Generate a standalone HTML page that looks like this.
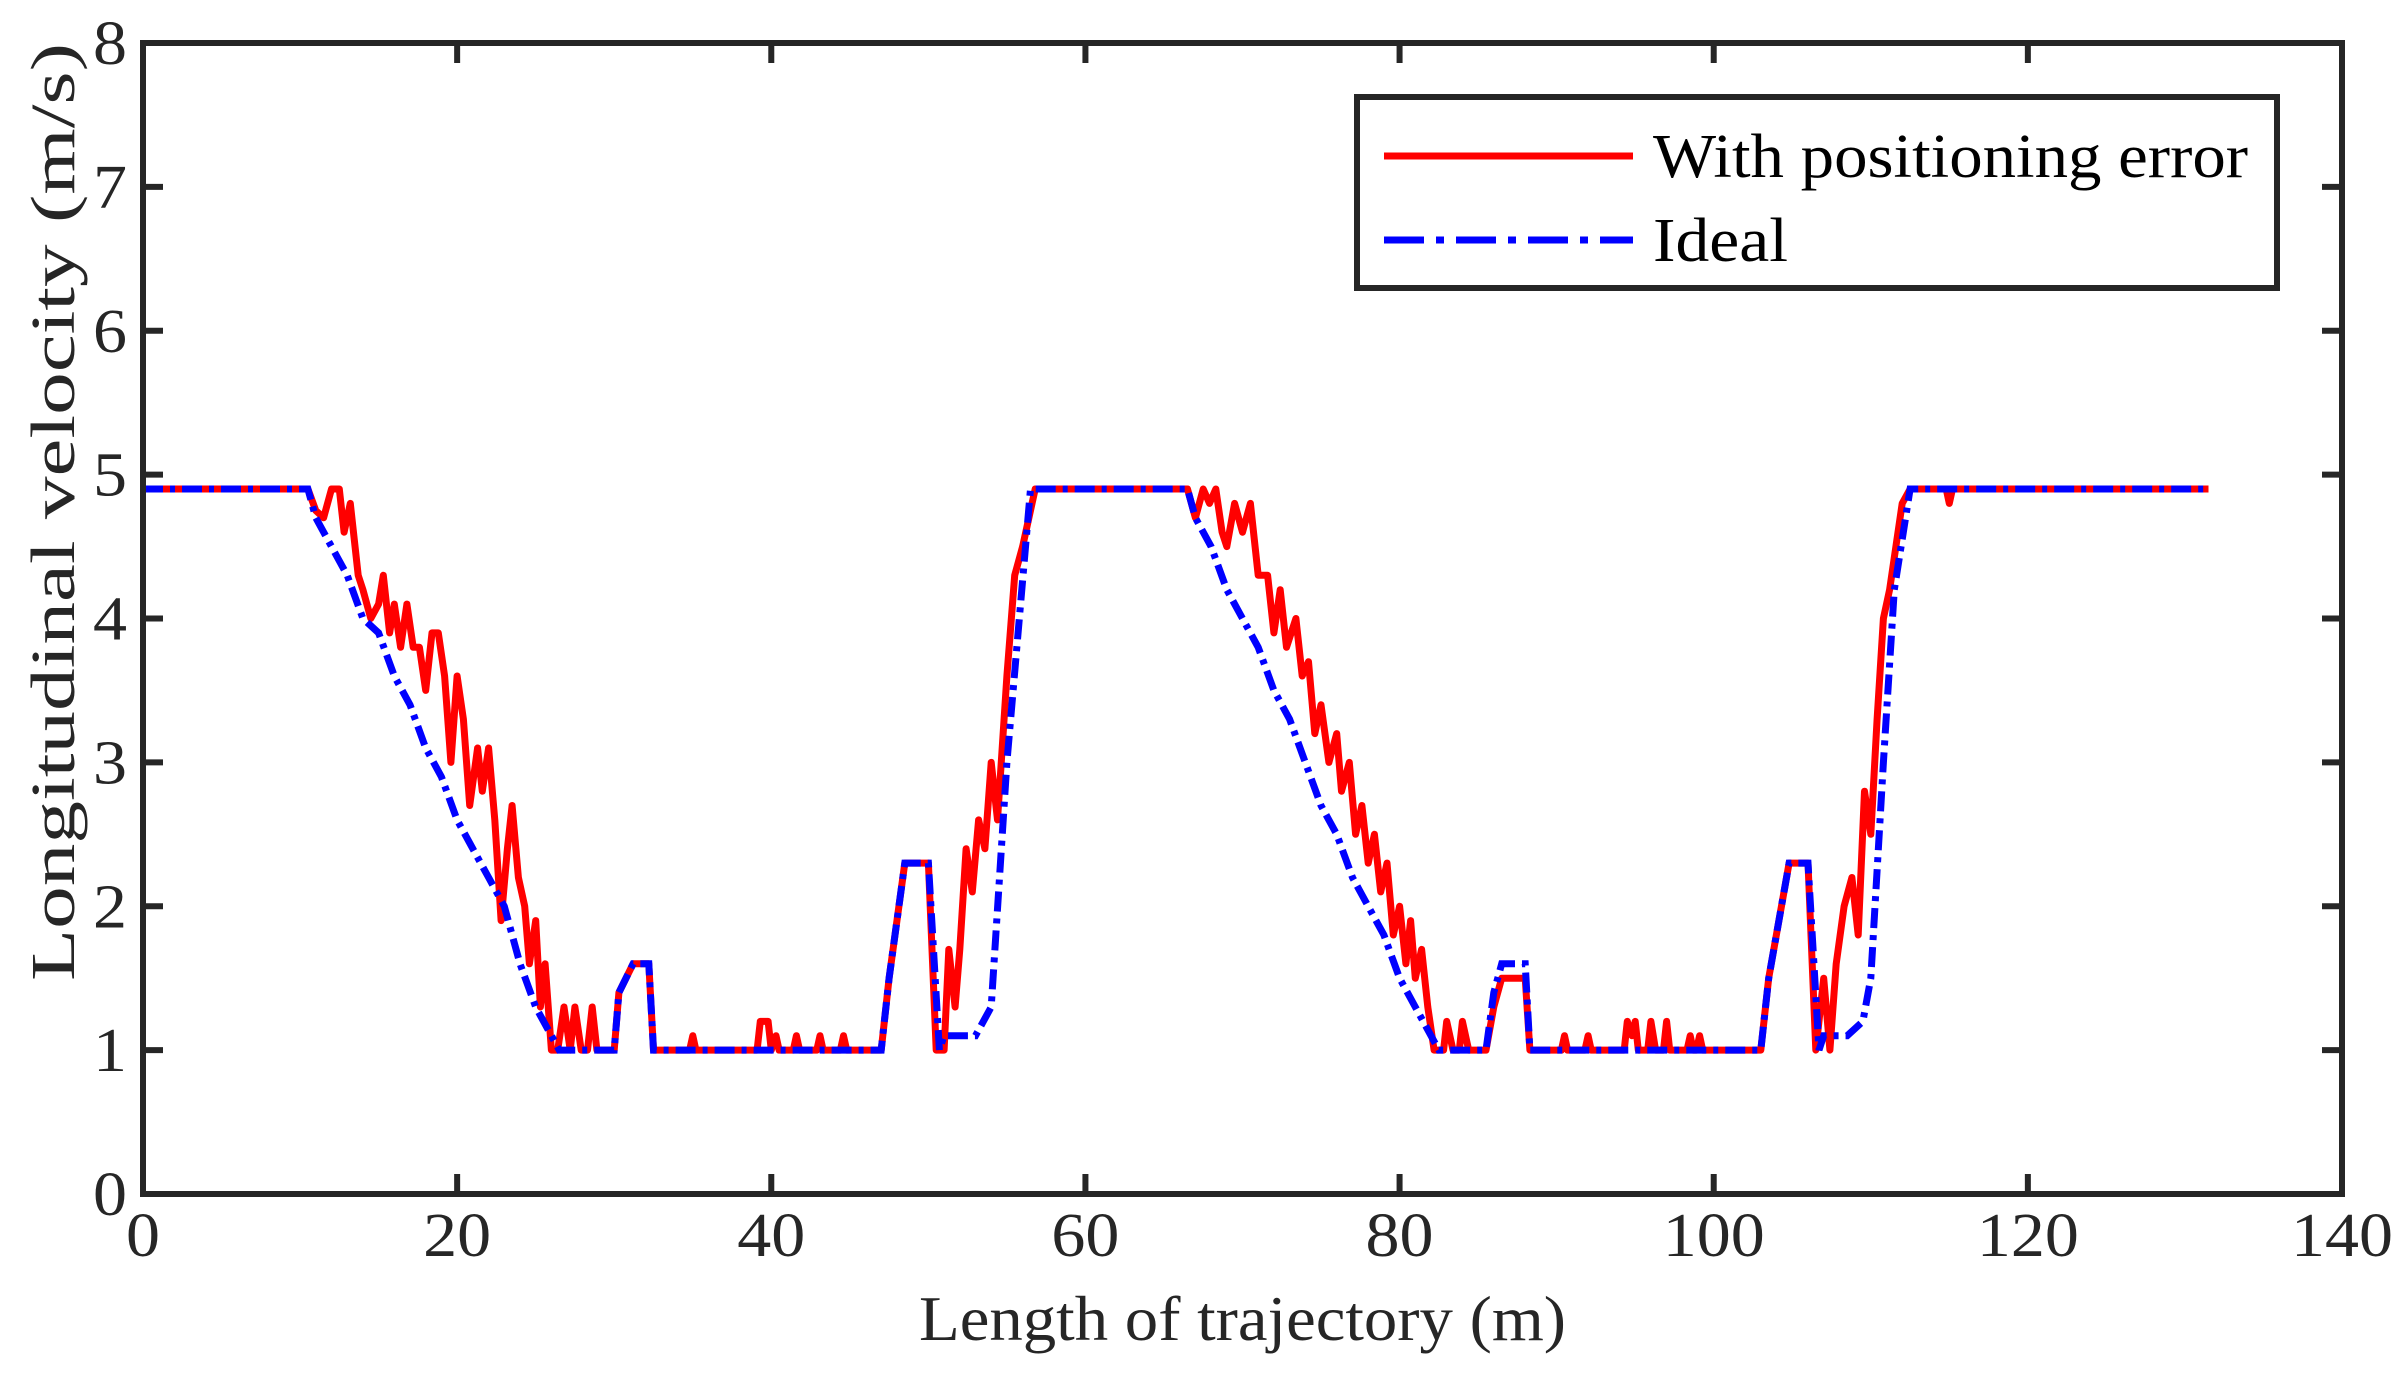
<!DOCTYPE html>
<html><head><meta charset="utf-8"><style>
body{margin:0;background:#fff;}
svg{display:block;font-family:"Liberation Serif",serif;}
</style></head><body>
<svg id="chart" width="2403" height="1393" viewBox="0 0 2403 1393"></svg>
<script>
const xTicks=[0,20,40,60,80,100,120,140];
const yTicks=[0,1,2,3,4,5,6,7,8];
const seriesNames=["With positioning error","Ideal"];
const idealX=[0,10.5,11,12,13,14,15,16,17,18,19,20,21,22,23,24,25,26,26.5,30,30.3,31.2,32.2,32.5,47,47.5,48.5,50,50.7,51,53,54,55,56.5,66.5,67,68,69,70,71,72,73,74,75,76,77,78,79,80,81,82,82.5,85.5,86,86.5,88,88.3,103,103.5,104.8,106,106.7,107,108.5,109.5,110,110.8,111.5,112.5,131.5];
const idealY=[4.9,4.9,4.7,4.5,4.3,4.0,3.9,3.6,3.4,3.1,2.9,2.6,2.4,2.2,2.0,1.6,1.3,1.1,1.0,1.0,1.4,1.6,1.6,1.0,1.0,1.5,2.3,2.3,1.0,1.1,1.1,1.3,3.0,4.9,4.9,4.7,4.5,4.2,4.0,3.8,3.5,3.3,3.0,2.7,2.5,2.2,2.0,1.8,1.5,1.3,1.1,1.0,1.0,1.4,1.6,1.6,1.0,1.0,1.5,2.3,2.3,1.0,1.1,1.1,1.2,1.5,3.0,4.2,4.9,4.9];
const errX=[0,10.5,
11,11.5,12,12.5,12.8,13.2,13.7,14,14.5,15,
15.3,15.7,16,16.4,16.8,17.2,17.6,18,18.4,18.8,
19.2,19.6,20,20.4,20.8,21.3,21.6,22,22.4,22.8,
23.2,23.5,23.9,24.3,24.6,25,25.3,25.6,26,26.4,
26.8,27.2,27.5,27.9,28.3,28.6,28.9,30,30.3,31.2,
32.2,32.5,34.8,35,35.2,39.1,39.3,39.8,40,40.3,
40.5,41.4,41.6,41.8,42.9,43.1,43.3,44.4,44.6,44.8,
47,47.5,48.5,50,50.5,51,51.3,51.7,52,52.4,
52.8,53.2,53.6,54,54.4,55,55.5,56,56.8,66.5,
67,67.5,67.9,68.3,68.7,69,69.5,70,70.5,71,
71.6,72,72.4,72.8,73.4,73.8,74.2,74.6,75,75.5,
76,76.3,76.8,77.2,77.6,78,78.4,78.8,79.2,79.6,
80,80.4,80.7,81,81.4,81.8,82.2,82.8,83,83.4,
83.8,84,84.4,85.5,86,86.5,88,88.3,90.3,90.5,
90.7,91.8,92,92.2,94.3,94.5,94.8,95,95.2,95.8,
96,96.3,96.8,97,97.2,98.3,98.5,98.7,98.9,99.1,
99.3,103,103.5,104.8,106,106.5,107,107.4,107.8,108.3,
108.8,109.2,109.6,110,110.4,110.8,111.2,112,112.5,114.8,
115,115.2,131.5];
const errY=[4.9,4.9,
4.75,4.7,4.9,4.9,4.6,4.8,4.3,4.2,4.0,4.1,
4.3,3.9,4.1,3.8,4.1,3.8,3.8,3.5,3.9,3.9,
3.6,3.0,3.6,3.3,2.7,3.1,2.8,3.1,2.6,1.9,
2.4,2.7,2.2,2.0,1.6,1.9,1.3,1.6,1.0,1.0,
1.3,1.0,1.3,1.0,1.0,1.3,1.0,1.0,1.4,1.6,
1.6,1.0,1.0,1.1,1.0,1.0,1.2,1.2,1.0,1.1,
1.0,1.0,1.1,1.0,1.0,1.1,1.0,1.0,1.1,1.0,
1.0,1.5,2.3,2.3,1.0,1.0,1.7,1.3,1.7,2.4,
2.1,2.6,2.4,3.0,2.6,3.6,4.3,4.5,4.9,4.9,
4.7,4.9,4.8,4.9,4.6,4.5,4.8,4.6,4.8,4.3,
4.3,3.9,4.2,3.8,4.0,3.6,3.7,3.2,3.4,3.0,
3.2,2.8,3.0,2.5,2.7,2.3,2.5,2.1,2.3,1.8,
2.0,1.6,1.9,1.5,1.7,1.3,1.0,1.0,1.2,1.0,
1.0,1.2,1.0,1.0,1.3,1.5,1.5,1.0,1.0,1.1,
1.0,1.0,1.1,1.0,1.0,1.2,1.1,1.2,1.0,1.0,
1.2,1.0,1.0,1.2,1.0,1.0,1.1,1.0,1.0,1.1,
1.0,1.0,1.5,2.3,2.3,1.0,1.5,1.0,1.6,2.0,
2.2,1.8,2.8,2.5,3.3,4.0,4.2,4.8,4.9,4.9,
4.8,4.9,4.9];

const NS="http://www.w3.org/2000/svg";
const svg=document.getElementById('chart');
const L=143,R=2342,T=43,B=1194;
const sx=v=>L+(v-0)/(140-0)*(R-L);
const sy=v=>B-(v-0)/(8-0)*(B-T);
function mk(tag,attrs,parent){const e=document.createElementNS(NS,tag);for(const k in attrs)e.setAttribute(k,attrs[k]);(parent||svg).appendChild(e);return e;}

xTicks.forEach(t=>{
  const g=mk('g',{});
  
  
  mk('line',{x1:sx(t),x2:sx(t),y1:B,y2:B-20,stroke:'#262626','stroke-width':6},g);
  mk('line',{x1:sx(t),x2:sx(t),y1:T,y2:T+20,stroke:'#262626','stroke-width':6},g);
  const tx=mk('text',{x:sx(t),y:B+62,'text-anchor':'middle','font-size':62,fill:'#262626',textLength:String(t).length*34,lengthAdjust:'spacingAndGlyphs'},g);
  tx.textContent=t;
});
yTicks.forEach(t=>{
  const g=mk('g',{});
  
  
  mk('line',{x1:L,x2:L+20,y1:sy(t),y2:sy(t),stroke:'#262626','stroke-width':6},g);
  mk('line',{x1:R,x2:R-20,y1:sy(t),y2:sy(t),stroke:'#262626','stroke-width':6},g);
  const tx=mk('text',{x:L-16,y:sy(t)+21,'text-anchor':'end','font-size':62,fill:'#262626',textLength:34,lengthAdjust:'spacingAndGlyphs'},g);
  tx.textContent=t;
});

function path(xs,ys){return xs.map((x,i)=>(i?'L':'M')+sx(x).toFixed(1)+','+sy(ys[i]).toFixed(1)).join('');}
const red=mk('path',{d:path(errX,errY),fill:'none',stroke:'#ff0000','stroke-width':7,'stroke-linejoin':'round'});


const blue=mk('path',{d:path(idealX,idealY),fill:'none',stroke:'#0000ff','stroke-width':7,'stroke-dasharray':'20 7 5 7'});



const frame=mk('rect',{x:L,y:T,width:R-L,height:B-T,fill:'none',stroke:'#262626','stroke-width':6});



const xt=mk('text',{x:(L+R)/2,y:1340,'text-anchor':'middle','font-size':64,fill:'#262626',textLength:647,lengthAdjust:'spacingAndGlyphs'});
xt.textContent='Length of trajectory (m)';


const yt=mk('text',{x:0,y:0,'text-anchor':'middle','font-size':62,fill:'#262626',textLength:938,lengthAdjust:'spacingAndGlyphs',transform:'translate(74,512) rotate(-90)'});
yt.textContent='Longitudinal velocity (m/s)';



const lg=mk('g',{});


mk('rect',{x:1357,y:97,width:920,height:191,fill:'#fff',stroke:'#262626','stroke-width':6},lg);
const colors=['#ff0000','#0000ff'];
const legendLens=[595,135];
seriesNames.forEach((n,i)=>{
  const y=156+i*84;
  const e=mk('g',{},lg);
  
  
  const ln=mk('line',{x1:1384,x2:1633,y1:y,y2:y,stroke:colors[i],'stroke-width':7},e);
  if(i===1)ln.setAttribute('stroke-dasharray','40 12 8 12');
  const t=mk('text',{x:1653,y:y+21,'font-size':62,fill:'#000',textLength:legendLens[i],lengthAdjust:'spacingAndGlyphs'},e);
  t.textContent=n;
});
</script>
</body></html>
